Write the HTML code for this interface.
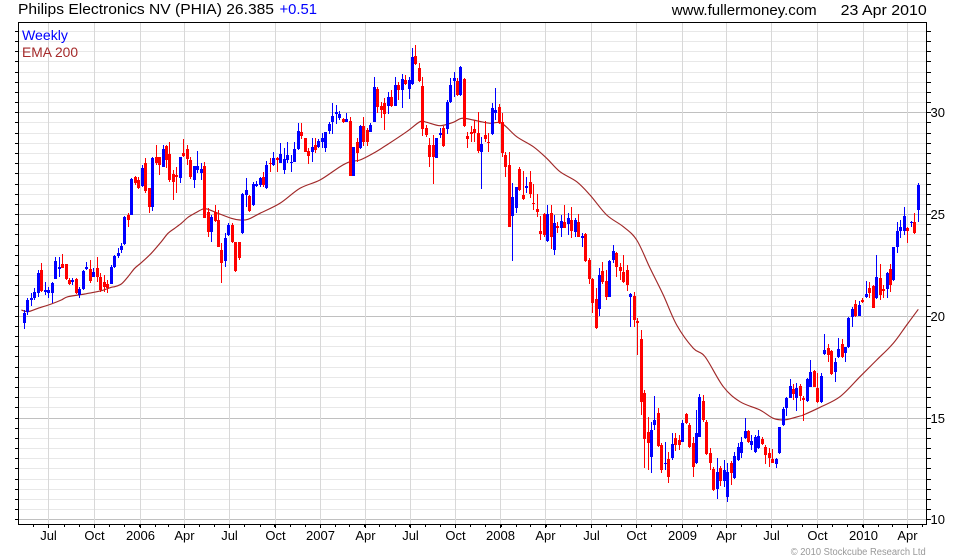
<!DOCTYPE html>
<html>
<head>
<meta charset="utf-8">
<style>
  html,body{margin:0;padding:0;background:#fff;}
  body{width:980px;height:560px;overflow:hidden;}
  svg{display:block;}
  text{font-family:"Liberation Sans",Arial,sans-serif;}
</style>
</head>
<body>
<svg id="c" width="980" height="560" viewBox="0 0 980 560" xmlns="http://www.w3.org/2000/svg" shape-rendering="crispEdges">
  <rect x="0" y="0" width="980" height="560" fill="#fff"/>
  <g id="grid"></g>
  <g id="ema"></g>
  <g id="candles"></g>
  <g id="axes"></g>
  <!-- header -->
  <text x="18" y="14" font-size="15" fill="#000" textLength="256" lengthAdjust="spacingAndGlyphs">Philips Electronics NV (PHIA) 26.385</text>
  <text x="279.5" y="14" font-size="15" fill="#0000ff" textLength="37.5" lengthAdjust="spacingAndGlyphs">+0.51</text>
  <text x="671.7" y="15" font-size="15" fill="#000" textLength="145" lengthAdjust="spacingAndGlyphs">www.fullermoney.com</text>
  <text x="840.7" y="15" font-size="15" fill="#000" textLength="86" lengthAdjust="spacingAndGlyphs">23 Apr 2010</text>
  <!-- legend -->
  <text x="22" y="40" font-size="14" fill="#0000ff" textLength="46" lengthAdjust="spacingAndGlyphs">Weekly</text>
  <text x="22" y="57" font-size="14" fill="#a52a2a" textLength="56" lengthAdjust="spacingAndGlyphs">EMA 200</text>
  <!-- copyright -->
  <text x="790.7" y="555" font-size="10" fill="#999" textLength="135" lengthAdjust="spacingAndGlyphs">© 2010 Stockcube Research Ltd</text>
</svg>
<script>
(function(){
  function Y(p){return Math.round(519.3-(p-10)*20.35);}
  var g='';
  for(var k=0;k<=48;k++){
    var p=10+k*0.5, y=Y(p);
    var major=(Math.abs(p%5)<1e-9);
    g+='<rect x="19" y="'+y+'" width="907" height="1" fill="'+(major?'#c0c0c0':'#e8e8e8')+'"/>';
  }
  var gx=[48,94,140,184,229,275,320,365,410,455,500,545,591,636,682,726,771,817,863,907];
  var gl=['Jul','Oct','2006','Apr','Jul','Oct','2007','Apr','Jul','Oct','2008','Apr','Jul','Oct','2009','Apr','Jul','Oct','2010','Apr'];
  for(var i=0;i<gx.length;i++){
    g+='<rect x="'+gx[i]+'" y="23" width="1" height="501" fill="#d8d8d8"/>';
  }
  document.getElementById('grid').innerHTML=g;

  var pts=[[21.3,310],[28,311.7],[38,308.3],[51.3,304],[61.3,300],[68,296.7],[84.7,294],[101.3,290.7],[111.3,287.3],[114.7,286.7],[121.3,284],[128,276.7],[134.7,268.3],[141.3,262.7],[151.3,253.3],[161.3,241.7],[168,233.3],[174.7,228.3],[181.3,223.3],[188,217.3],[194.7,213.3],[203,209],[208,209.3],[218,213.3],[231.3,218.3],[240,220],[248,219.3],[260,213.3],[280,203.3],[300,188.3],[320,180],[340,166.7],[350,161.7],[360,160],[373.3,153.3],[386.7,145],[406.7,131.7],[420,121.7],[426.7,122.3],[440,125.7],[453.3,122.3],[461.7,118.3],[473.3,120],[480,121.5],[490,123.3],[501.7,123.3],[516.7,136.7],[533.3,146.7],[546.7,158.3],[560,171.7],[576.7,181.7],[590,195],[606.7,215],[623.3,226.7],[636.7,240],[650,268],[663.3,295],[676.7,325],[693.3,348.3],[705,356.7],[723.3,386.7],[740,401.7],[760,410],[773.3,418.3],[785,419.8],[800,416],[803.3,415],[820,407.3],[840,396.7],[860,376.7],[876.7,360],[893.3,343.3],[906.7,325],[918.3,309.3]];
  // Catmull-Rom smoothing
  var d='M'+pts[0][0]+','+pts[0][1];
  for(var i=0;i<pts.length-1;i++){
    var p0=pts[i>0?i-1:0],p1=pts[i],p2=pts[i+1],p3=pts[i+2<pts.length?i+2:i+1];
    var c1x=p1[0]+(p2[0]-p0[0])/6, c1y=p1[1]+(p2[1]-p0[1])/6;
    var c2x=p2[0]-(p3[0]-p1[0])/6, c2y=p2[1]-(p3[1]-p1[1])/6;
    d+=' C'+c1x.toFixed(2)+','+c1y.toFixed(2)+' '+c2x.toFixed(2)+','+c2y.toFixed(2)+' '+p2[0]+','+p2[1];
  }
  document.getElementById('ema').innerHTML='<path d="'+d+'" fill="none" stroke="#a02828" stroke-width="1.15" shape-rendering="auto"/>';

  var D=[
[312.7,322.7,310,329,1],[300,311.7,298.3,315,1],[297.7,300,293.3,306,1],[292.3,298.3,288.3,300,1],[273.3,292.7,270,296.7,1],[270,290.7,263.3,291.7,0],[290,291.7,281.7,295,1],[290,293.3,286.7,298.3,1],[283.3,293.3,281.7,303.3,1],[261,279,256.7,279,1],
[266.7,269.3,256.7,276.7,1],[264.3,267.7,254,267.7,0],[264.3,279.3,264.3,280,0],[280,284.3,278,285,0],[280,281.7,278.3,285,1],[279,293.3,278,294,0],[289.3,295,286.7,297.7,1],[271,289.3,270,290,1],[266.7,268.7,261.7,270,1],[269.3,281,260,283.3,0],
[272.3,276.7,267.7,276.7,1],[268.3,276.7,256.7,281.7,0],[276.7,290,273.3,291.7,0],[281.7,286.7,275,291.7,0],[284.3,288.3,280,293.3,0],[266.7,284,265,284.3,1],[256,267.3,255,268.3,1],[253.3,256,248.3,258.3,1],[245.7,250,243.3,253.3,1],[217.3,244,216,245,1],
[215,220,213.3,226.7,0],[179,215,178,215,1],[177.3,183.3,176,185,0],[180,188.3,176.7,189,0],[167.7,185.7,165,186.7,1],[163.3,190.7,158.3,193.3,0],[188.3,206.7,188.3,212.7,0],[158.3,206.7,156.7,211,1],[157.3,163.3,145,165,0],[157.3,165,156.7,175,0],
[149,166.7,145,167.3,1],[145.7,160,145,168.3,0],[154,180,142.3,181.7,0],[174,181.7,170,200,0],[175,177.3,166.7,193.3,0],[157.3,178.3,156.7,183.3,1],[152.7,156,139.3,156.7,0],[149,159.3,145,165,0],[160,176.7,156.7,179.3,0],[166,180,166,188.3,1],
[166,170,151,173.3,1],[169.3,172.7,163.3,180,1],[166,218.3,161.7,218.3,0],[212.3,231.7,208.3,236.7,0],[216.7,231.7,215,241.7,1],[211.7,220.7,205,221.7,0],[220,246.7,210,247.3,0],[250,262.7,243.3,283.3,0],[238.3,260.7,233.3,266.7,1],[225,235,223.3,236,1],
[225,241.7,223.3,243.3,0],[242.3,271,241.7,271.7,0],[242.3,258.3,241.7,260,0],[194.3,233.3,193.3,234,1],[190,195,178.3,206.7,1],[196,211,195,211.7,0],[184,205,181.7,205.7,1],[184,185.7,180.7,186.7,1],[178.3,185,176.7,186.7,1],[176.7,185,171.7,186.7,0],
[165,188.3,161,189,1],[162.7,164.3,157.7,172.3,0],[158.3,165,152.3,165.7,1],[157.7,160,156.7,171.7,0],[154,162.7,143.3,163.3,1],[159,170,148.3,174,1],[155,160,142.3,163.3,1],[161.7,163.3,155,171.7,1],[149,161.7,142.3,162.3,1],[131,149.3,123.3,150,1],
[132.3,135.7,122.7,139,0],[138.3,151.7,137.7,152.3,0],[150.7,155.7,148.3,164.3,0],[146.7,152.3,137.7,162.3,1],[145,150,137.7,153.3,0],[141,146.7,139.3,147.7,1],[138.3,142.3,132.7,147.7,1],[132.3,147.7,131.7,152.3,1],[124,131,122.3,134.3,1],[115.7,122.3,103.3,134.3,1],
[112.3,114.3,105,124.3,1],[114.3,118.3,111,120,1],[119.3,121.7,118.3,123.3,0],[119.3,121.7,113.3,122.3,1],[121,175.7,116.7,175.7,0],[147.3,175.7,146.7,175.7,1],[142.3,153.3,138.3,162.3,0],[125.7,148.3,125,149,1],[125.7,141.7,116.7,145.7,0],[130,141.7,128.3,146,0],
[125,131.7,123.3,132.3,1],[86.7,121.7,76.7,122.3,1],[89,106.7,86.7,113.3,0],[106,110,101.7,118.3,0],[103.3,114,98.3,130,0],[96.7,106,91.7,114,1],[96.7,105.7,90,106.7,0],[85,105.7,76.7,106,1],[85,90,82.3,100,0],[79,90,74.3,107.7,1],
[80,84.3,75,85,0],[80,89,76.7,99,1],[56.7,84.3,47.7,85,1],[55.7,64,45,65,0],[68.3,80.7,63.3,81.7,0],[85.7,129.3,76.7,136,0],[128.3,135,125,136.7,0],[145,157.3,138.3,166.7,0],[145,157.3,135,184.3,0],[138.3,157.7,137.7,158.3,1],
[132.7,135,128.3,138.3,1],[127.7,145.7,125.7,146.7,0],[101.7,129.3,100,134.3,1],[85,101.7,78.3,103.3,1],[77.7,81,71.7,96.7,1],[81,95,78.3,96,0],[67.3,95,65.7,96,1],[79,125.7,78.3,126.7,0],[136,139.3,131.7,148.3,0],[131.7,134,125.7,142.3,0],
[129,133.3,120,141.7,0],[133.3,151,111.7,153.3,0],[144,151.7,136.7,189.3,1],[135,139.3,120.7,141.7,0],[141.7,143.3,132.7,151.7,0],[108.3,134.3,102.7,135,1],[110,113.3,88.3,120,1],[107.3,123.3,104,124,0],[121.7,153.3,113.3,156.7,0],[155,166.7,151.7,176.7,0],
[165,226.7,151.7,227.3,0],[197.3,216,183.3,260.7,1],[187.3,207.7,186.7,212.7,1],[169.3,190,167.3,191,0],[195,199.3,170.7,200,0],[186,188.3,176.7,193.3,1],[181.7,194,170.7,198.3,0],[202.7,204.3,184,210,0],[209,211.7,194,217.3,0],[231,234.3,216,240,0],
[214.3,235,213.3,236.7,0],[214.3,240.7,205,241.7,1],[212.7,236.7,205,249.3,0],[223.3,250,215,255,1],[226,227.7,221.7,233.3,0],[221,227.7,215,236.7,1],[222.3,227.7,205,228.3,0],[217.7,224,212.7,235,1],[220,230.7,206.7,238.3,0],[220,231.7,218.3,236.7,1],
[221.7,236.7,214.3,237.3,0],[236,238.3,233.3,247.3,1],[234,260.7,233.3,261.7,0],[260,279,258.3,284,0],[279,303.3,278.3,313.3,0],[299.3,328.3,288,329,0],[275,309,268.3,316,1],[271,281.7,261.7,284,0],[281,296.7,270,300,0],[261,296.7,260,297.3,1],
[251,260,245,263.3,1],[253.3,267.3,251.7,276.7,0],[267.3,270.7,263.3,280,0],[271.7,281.7,255,282.7,0],[270,285,265,290.7,0],[294.3,297.3,293.3,326.7,1],[296,320,291.7,326.7,0],[320.7,322.7,318.3,355,0],[339,401.7,330,415,0],[392.7,439,390,468.3,0],
[431.7,443.3,416.7,470,0],[430,456.7,421.7,472.7,1],[420,425,396,430,1],[413.3,446,408.3,446.7,0],[445,470,443.3,473.3,0],[462.7,464,441.7,470,1],[459,476.7,451.7,482.7,0],[444,458.3,432.7,460,1],[438.3,445,433.3,450.7,0],[440,445,435,450,0],
[422.7,441.7,420,442.3,1],[414,423.3,412.7,424,0],[425,446.7,423.3,448.3,0],[442.7,466.7,436.7,476.7,0],[432.7,463.3,410,464,1],[396.7,436.7,394,437.3,1],[401,420,395,421.7,0],[421.7,454,420,455,0],[453.3,462.7,448.3,470,0],[469.3,490,466.7,490.7,0],
[471.7,489.3,458.3,499.3,1],[468.3,480.7,466,486,0],[470,480.7,460,486.7,1],[471.7,496.7,462.7,501.7,1],[463.3,473.3,460.7,485,0],[456,478.3,451.7,479,1],[446.7,460,442.7,461,1],[441.7,453.3,436.7,458.3,1],[431,437.7,418.3,439.3,1],[431,441.7,430,442.7,0],
[441,445,435,450,1],[436.7,452.3,435,453.3,1],[436,448.3,430,449.3,1],[439,444,436.7,445,0],[446.7,455,445,464,0],[453.3,458.3,448.3,467.3,0],[459,462.7,449.3,463.3,0],[459,464,458.3,468.3,1],[427.3,453.3,426.7,454,1],[409.3,425,406.7,426,1],
[397.7,407.7,396.7,416,1],[386,397.7,379.3,398.3,1],[389,394.3,384.3,400,0],[388.3,397.7,383.3,410.7,1],[386,396,384.3,400.7,0],[397.7,400,396,420.7,0],[379.3,400.7,378.3,401.7,1],[371.7,386.7,360,387.3,1],[371,386.7,370,387.3,0],[388.3,401.7,372.7,403.3,0],
[376,401.7,372.7,402.7,1],[350,354,334,355,1],[348.3,355,344,361.7,0],[351,374,350,375,0],[362.3,372.3,358.3,381.7,1],[349.3,357.3,338.3,358.3,1],[344,357.3,339.3,358.3,0],[347.3,353.3,346.7,361.7,1],[318.3,347.3,316.7,348.3,1],[309.3,316.7,306.7,327.3,1],
[304.3,316,300,316.7,0],[305,315.7,301,316,1],[300,302.3,298.3,303.3,0],[294,296.7,281,298.3,1],[288.3,292.7,281.7,298.3,0],[286,308.3,285,308.3,0],[277.3,298.3,255,299.3,1],[277.7,295,264,300,0],[289,290.7,285,298.3,0],[273.3,289.3,271.7,298.3,1],
[269,285,264,291.7,0],[247.3,280,246.7,280.7,1],[231,246.7,221.7,252.7,1],[227.3,231,220,238.3,1],[216,230.7,206.7,235,1],[228.3,230.7,226.7,242.7,0],[222.3,223.3,220.7,226.7,1],[221.7,233.3,213.3,234,0],[185,210,182.7,221.7,1]
  ];
  var c='';
  for(var i=0;i<D.length;i++){
    var b=D[i], cx=Math.round(24.3+3.464*i-0.3);
    var col=b[4]?'#0000ff':'#ff0000';
    var wt=Math.round(b[2]), wb=Math.round(b[3]);
    var bt=Math.round(b[0]), bb=Math.round(b[1]);
    var bh=Math.max(1,bb-bt);
    if(wb-wt<1) wb=wt+1;
    c+='<rect x="'+cx+'" y="'+wt+'" width="1" height="'+(wb-wt)+'" fill="'+col+'"/>';
    c+='<rect x="'+(cx-1)+'" y="'+bt+'" width="3" height="'+bh+'" fill="'+col+'"/>';
  }
  document.getElementById('candles').innerHTML=c;

  var a='';
  a+='<rect x="18.5" y="22.5" width="908" height="502" fill="none" stroke="#000" stroke-width="1"/>';
  for(var k=0;k<=48;k++){
    var p=10+k*0.5, y=Y(p);
    a+='<rect x="15" y="'+y+'" width="3" height="1" fill="#000"/>';
    a+='<rect x="927" y="'+y+'" width="4" height="1" fill="#000"/>';
  }
  [10,15,20,25,30].forEach(function(p){
    a+='<text x="930.5" y="'+(Y(p)+5)+'" font-size="13" fill="#000">'+p+'</text>';
  });
  for(var yr=2005;yr<=2010;yr++){for(var m=0;m<12;m++){
    var dt=Date.UTC(yr,m,1), d=(dt-Date.UTC(2006,0,1))/86400000;
    var x=Math.floor(139.8+d*0.49487);
    if(x>19&&x<926){a+='<rect x="'+x+'" y="525" width="1" height="2" fill="#000"/>';}
  }}
  for(var i=0;i<gx.length;i++){
    a+='<rect x="'+gx[i]+'" y="525" width="1" height="3" fill="#000"/>';
    a+='<text x="'+(gx[i]+0.5)+'" y="540" font-size="13" fill="#000" text-anchor="middle">'+gl[i]+'</text>';
  }
  document.getElementById('axes').innerHTML=a;
})();
</script>
</body>
</html>
